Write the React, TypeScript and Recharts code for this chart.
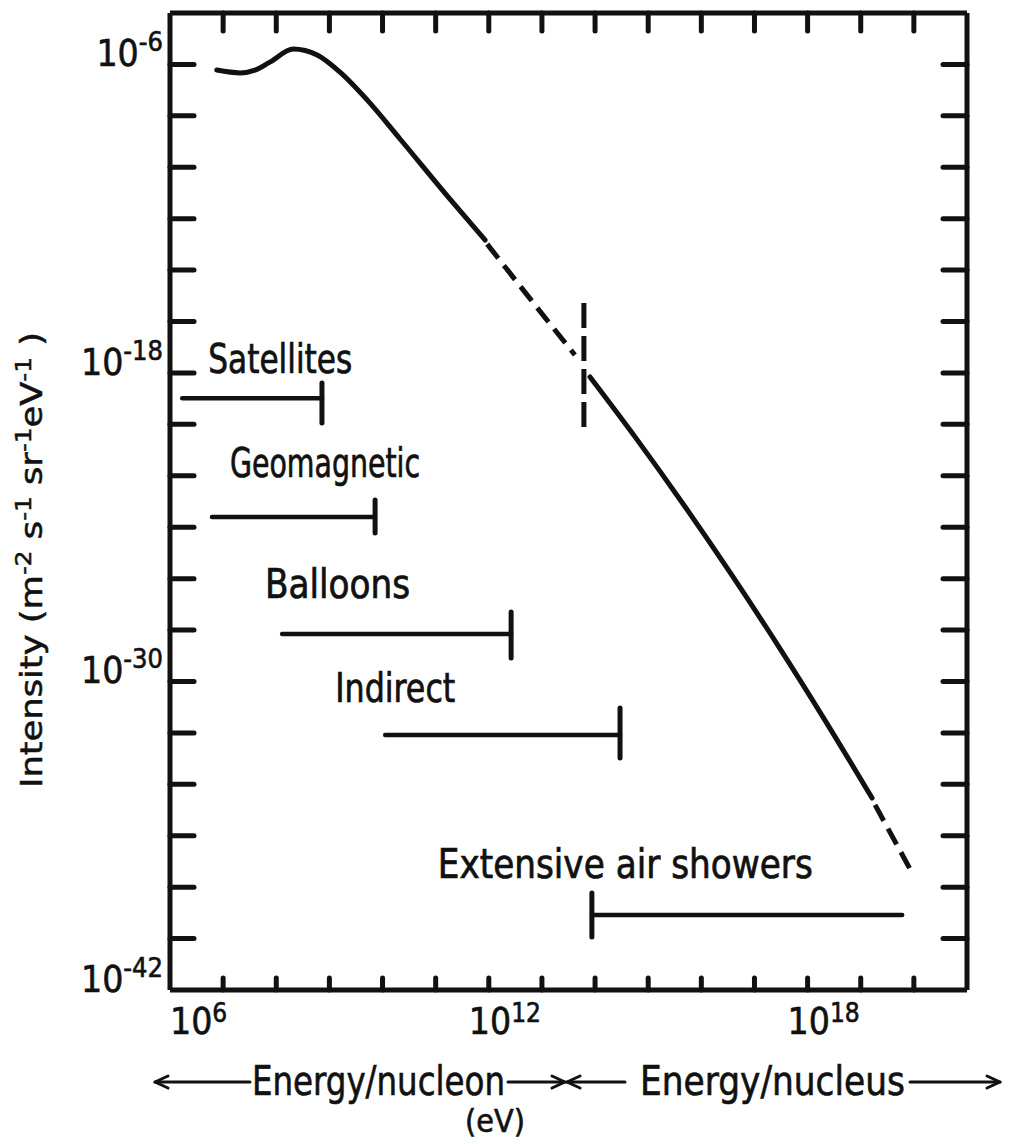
import React from 'react';
import { LineChart, Line, XAxis, YAxis, ReferenceLine, ReferenceDot } from 'recharts';

// ---- data (log10 of energy in eV, log10 of intensity) ----
const lowSolidE = [6.88, 7.32, 7.6, 7.88, 8.32, 8.77, 9.2, 9.71, 10.33, 11.27, 11.93];
const lowSolidI = [-6.22, -6.33, -6.22, -5.91, -5.4, -5.63, -6.3, -7.38, -8.9, -11.24, -12.83];
const midDashE = [11.97, 12.78, 13.62];
const midDashI = [-12.99, -15.12, -17.3];
const highSolidE = [13.905, 14.79, 15.674, 16.559, 17.444, 18.328, 19.213];
const highSolidI = [-18.158, -20.593, -23.144, -25.817, -28.605, -31.511, -34.533];
const tailDashE = [19.27, 19.99];
const tailDashI = [-34.8, -37.53];

const kneeE = 13.79;
const kneeTop = -15.28;
const kneeBottom = -20.14;

const methods = ['Satellites', 'Geomagnetic', 'Balloons', 'Indirect', 'Extensive air showers'];
const rangeFrom = [6.23, 6.79, 8.11, 10.05, 13.94];
const rangeTo = [8.86, 9.86, 12.42, 14.47, 19.78];
const rangeLevel = [-18.98, -23.6, -28.15, -32.08, -39.08];
const capAt = [8.86, 9.86, 12.42, 14.47, 13.94];
const capTop = [-18.39, -22.94, -27.3, -31.03, -38.23];
const capBottom = [-19.95, -24.23, -29.09, -32.98, -39.94];
const labelE = [6.72, 7.13, 7.79, 9.11, 11.04];
const labelI = [-18.0, -22.05, -26.75, -30.8, -37.64];

const xTicks = [6, 7, 8, 9, 10, 11, 12, 13, 14, 15, 16, 17, 18, 19, 20];
const xLabelTicks = [6, 12, 18];
const yTicks = [-42, -40, -38, -36, -34, -32, -30, -28, -26, -24, -22, -20, -18, -16, -14, -12, -10, -8, -6];
const yLabelTicks = [-42, -30, -18, -6];

// ---- styles ----
const INK = '#111';
const FONT = "'Liberation Sans Narrow', 'Arial Narrow', 'DejaVu Sans Condensed', sans-serif";
const methodLabelLength = [144, 190, 145, 120, 375];

const zip = (es: number[], is: number[]) => es.map((e, i) => ({ e, v: is[i] }));
const lowSolid = zip(lowSolidE, lowSolidI);
const midDash = zip(midDashE, midDashI);
const highSolid = zip(highSolidE, highSolidI);
const tailDash = zip(tailDashE, tailDashI);

const LeftTick = (props: any) => {
  const { x, y, payload } = props;
  const v = payload.value;
  return (
    <g>
      {v > -42 && <line x1={x} x2={x + 24} y1={y} y2={y} stroke={INK} strokeWidth={5} strokeLinecap="round" />}
      {yLabelTicks.includes(v) && (
        <text x={x - 7} y={y + 2} textAnchor="end" fontFamily={FONT} fontSize={37} fill={INK} stroke={INK} strokeWidth={0.6}>
          10<tspan fontSize={27} dy={-15}>{`-${-v}`}</tspan>
        </text>
      )}
    </g>
  );
};

const RightTick = (props: any) => {
  const { x, y, payload } = props;
  const v = payload.value;
  if (v <= -42) return <g />;
  return <line x1={x - 24} x2={x} y1={y} y2={y} stroke={INK} strokeWidth={5} strokeLinecap="round" />;
};

const BottomTick = (props: any) => {
  const { x, y, payload } = props;
  const v = payload.value;
  return (
    <g>
      {v > 6 && <line x1={x} x2={x} y1={y} y2={y - 12} stroke={INK} strokeWidth={5} strokeLinecap="round" />}
      {xLabelTicks.includes(v) && (
        <text x={x + (v === 6 ? 0 : -20)} y={y + 44} textAnchor="start" fontFamily={FONT} fontSize={37} fill={INK} stroke={INK} strokeWidth={0.6}>
          10<tspan fontSize={26} dy={-12}>{`${v}`}</tspan>
        </text>
      )}
    </g>
  );
};

const TopTick = (props: any) => {
  const { x, y, payload } = props;
  const v = payload.value;
  if (v <= 6) return <g />;
  return <line x1={x} x2={x} y1={y} y2={y + 18} stroke={INK} strokeWidth={5} strokeLinecap="round" />;
};

const Arrow = ({ x1, x2, y, dir }: { x1: number; x2: number; y: number; dir: 'left' | 'right' }) => {
  const tip = dir === 'left' ? x1 : x2;
  const back = dir === 'left' ? tip + 13 : tip - 13;
  return (
    <g stroke={INK} strokeWidth={3} fill="none" strokeLinecap="round" strokeLinejoin="round">
      <line x1={x1} x2={x2} y1={y} y2={y} />
      <polyline points={`${back},${y - 6} ${tip},${y} ${back},${y + 6}`} />
    </g>
  );
};

const BottomCaption = (props: any) => {
  const vb = props.viewBox || {};
  const x0 = vb.x ?? 162;
  const y0 = vb.y ?? 982;
  const base = y0 + 105;
  const mid = y0 + 92;
  return (
    <g fontFamily={FONT} fill={INK} stroke={INK} strokeWidth={0.6}>
      <Arrow x1={x0 - 15} x2={x0 + 80} y={mid} dir="left" />
      <text x={x0 + 82} y={base} fontSize={40} textLength={253} lengthAdjust="spacingAndGlyphs">Energy/nucleon</text>
      <Arrow x1={x0 + 338} x2={x0 + 395} y={mid} dir="right" />
      <Arrow x1={x0 + 397} x2={x0 + 455} y={mid} dir="left" />
      <text x={x0 + 470} y={base} fontSize={40} textLength={265} lengthAdjust="spacingAndGlyphs">Energy/nucleus</text>
      <Arrow x1={x0 + 740} x2={x0 + 830} y={mid} dir="right" />
      <text x={x0 + 325} y={y0 + 142} fontSize={32} textAnchor="middle">(eV)</text>
    </g>
  );
};

const YTitle = (props: any) => {
  const vb = props.viewBox || {};
  const cx = (vb.x ?? 161) + (vb.width ?? 1) - 128;
  const cy = (vb.y ?? 5) + 547;
  return (
    <text
      x={cx}
      y={cy}
      transform={`rotate(-90, ${cx}, ${cy})`}
      textAnchor="middle"
      fontFamily={FONT}
      fontSize={30}
      fill={INK}
      stroke={INK}
      strokeWidth={0.5}
      textLength={456}
      lengthAdjust="spacingAndGlyphs"
    >
      Intensity (m<tspan fontSize={21} dy={-11}>-2</tspan>
      <tspan dy={11}> s</tspan><tspan fontSize={21} dy={-11}>-1</tspan>
      <tspan dy={11}> sr</tspan><tspan fontSize={21} dy={-11}>-1</tspan>
      <tspan dy={11}>eV</tspan><tspan fontSize={21} dy={-11}>-1</tspan>
      <tspan dy={11}> )</tspan>
    </text>
  );
};

export default function App() {
  return (
    <div style={{ width: 1000, height: 1136, background: '#fff' }}>
      <LineChart width={1000} height={1136} margin={{ top: 4, right: 40, bottom: 153, left: 161 }}>
        <XAxis
          type="number"
          dataKey="e"
          domain={[6, 21]}
          ticks={xTicks}
          interval={0}
          allowDataOverflow
          height={1}
          tickSize={0}
          tickMargin={0}
          tickLine={false}
          axisLine={{ stroke: INK, strokeWidth: 5 }}
          tick={<BottomTick />}
          label={(p: any) => <BottomCaption {...p} />}
        />
        <XAxis
          xAxisId="top"
          orientation="top"
          type="number"
          dataKey="e"
          domain={[6, 21]}
          ticks={xTicks}
          interval={0}
          allowDataOverflow
          height={1}
          tickSize={0}
          tickMargin={0}
          tickLine={false}
          axisLine={{ stroke: INK, strokeWidth: 5 }}
          tick={<TopTick />}
        />
        <YAxis
          type="number"
          dataKey="v"
          domain={[-42, -4]}
          ticks={yTicks}
          interval={0}
          allowDataOverflow
          width={1}
          tickSize={0}
          tickMargin={0}
          tickLine={false}
          axisLine={{ stroke: INK, strokeWidth: 5 }}
          tick={<LeftTick />}
          label={(p: any) => <YTitle {...p} />}
        />
        <YAxis
          yAxisId="right"
          orientation="right"
          type="number"
          dataKey="v"
          domain={[-42, -4]}
          ticks={yTicks}
          interval={0}
          allowDataOverflow
          width={1}
          tickSize={0}
          tickMargin={0}
          tickLine={false}
          axisLine={{ stroke: INK, strokeWidth: 5 }}
          tick={<RightTick />}
        />

        <Line data={lowSolid} dataKey="v" type="monotone" stroke={INK} strokeWidth={5} strokeLinecap="round" dot={false} activeDot={false} isAnimationActive={false} />
        <Line data={midDash} dataKey="v" type="monotone" stroke={INK} strokeWidth={5} strokeDasharray="18 9" dot={false} activeDot={false} isAnimationActive={false} />
        <Line data={highSolid} dataKey="v" type="monotone" stroke={INK} strokeWidth={5} strokeLinecap="round" dot={false} activeDot={false} isAnimationActive={false} />
        <Line data={tailDash} dataKey="v" type="linear" stroke={INK} strokeWidth={5} strokeDasharray="18 9" dot={false} activeDot={false} isAnimationActive={false} />

        <ReferenceLine
          segment={[{ x: kneeE, y: kneeTop }, { x: kneeE, y: kneeBottom }]}
          stroke={INK}
          strokeWidth={5}
          strokeDasharray="25 8"
        />

        {methods.map((m, i) => (
          <ReferenceLine
            key={`bar-${m}`}
            segment={[{ x: rangeFrom[i], y: rangeLevel[i] }, { x: rangeTo[i], y: rangeLevel[i] }]}
            stroke={INK}
            strokeWidth={4.5}
            strokeLinecap="round"
          />
        ))}
        {methods.map((m, i) => (
          <ReferenceLine
            key={`cap-${m}`}
            segment={[{ x: capAt[i], y: capTop[i] }, { x: capAt[i], y: capBottom[i] }]}
            stroke={INK}
            strokeWidth={5}
            strokeLinecap="round"
          />
        ))}
        {methods.map((m, i) => (
          <ReferenceDot
            key={`lbl-${m}`}
            x={labelE[i]}
            y={labelI[i]}
            r={0}
            shape={(p: any) => (
              <text
                x={p.cx}
                y={p.cy}
                fontFamily={FONT}
                fontSize={40}
                fill={INK}
                stroke={INK}
                strokeWidth={0.7}
                textLength={methodLabelLength[i]}
                lengthAdjust="spacingAndGlyphs"
              >
                {m}
              </text>
            )}
          />
        ))}
      </LineChart>
    </div>
  );
}
